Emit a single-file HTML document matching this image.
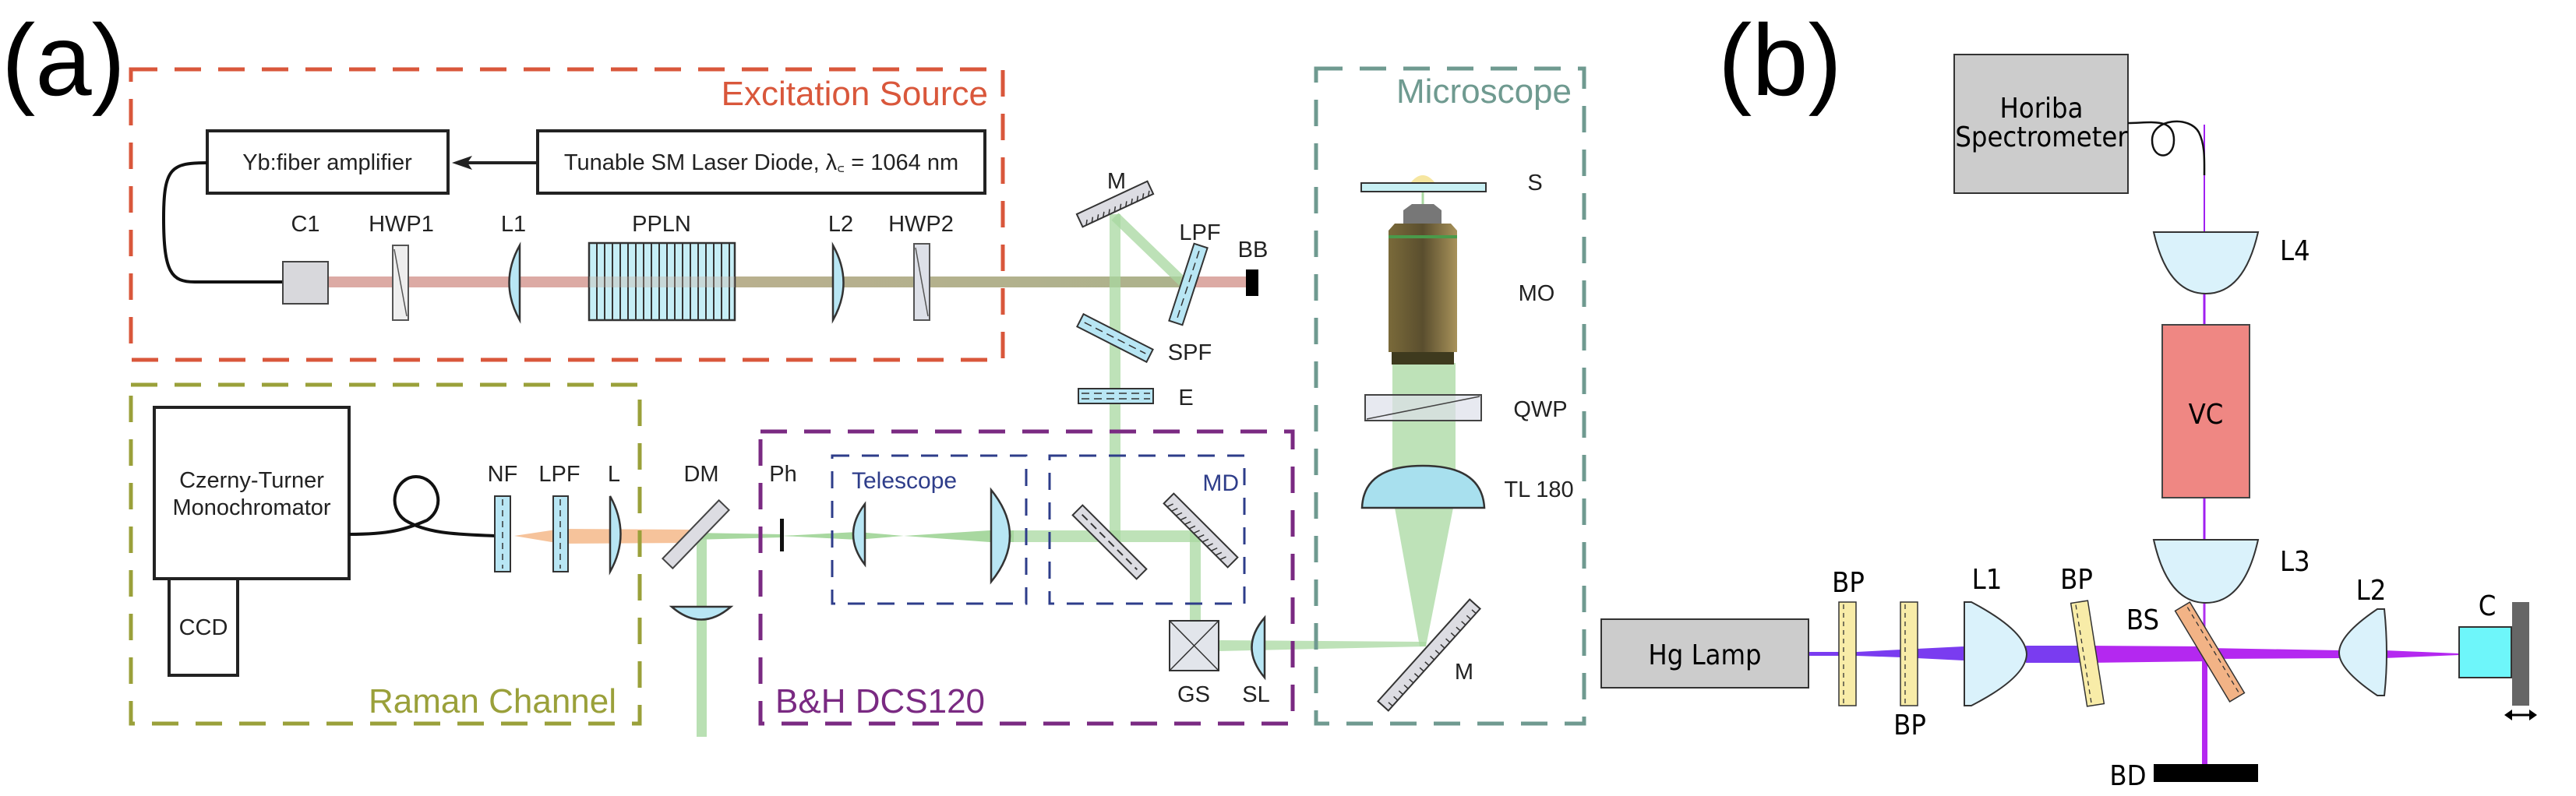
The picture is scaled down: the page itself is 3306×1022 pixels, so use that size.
<!DOCTYPE html>
<html><head><meta charset="utf-8"><style>
html,body{margin:0;padding:0;background:#fff;}
svg{display:block;}
.a{font-family:"Liberation Sans",sans-serif;font-size:29px;fill:#222;}
.b{font-family:"DejaVu Sans Condensed","DejaVu Sans",sans-serif;font-size:36px;fill:#000;}
</style></head><body>
<svg width="3306" height="1022" viewBox="0 0 3306 1022" xmlns="http://www.w3.org/2000/svg">
<defs>
<linearGradient id="beam" x1="0" x2="1" y1="0" y2="0">
<stop offset="0" stop-color="#dcaaa4"/><stop offset="0.28" stop-color="#dcaaa4"/><stop offset="0.45" stop-color="#b9b08e"/><stop offset="1" stop-color="#abb28c"/></linearGradient>
<linearGradient id="mo" x1="0" x2="1"><stop offset="0" stop-color="#7a6a3a"/><stop offset="0.5" stop-color="#5a4e2e"/><stop offset="1" stop-color="#a8925a"/></linearGradient>
</defs>

<!-- (a) -->
<text x="2" y="122" font-family="Liberation Sans,sans-serif" font-size="130" fill="#000">(a)</text>

<!-- beams panel a -->
<rect x="421" y="355" width="1178" height="14" fill="url(#beam)"/>
<rect x="1515" y="355" width="84" height="14" fill="#dcaaa4"/>
<rect x="1424" y="275" width="14" height="420" fill="#a8d8a0" opacity="0.75"/>
<line x1="1431" y1="278" x2="1518" y2="362" stroke="#a8d8a0" stroke-width="13" opacity="0.75"/>
<rect x="1301" y="681" width="240" height="15" fill="#a8d8a0" opacity="0.75"/>
<rect x="1527" y="681" width="14" height="118" fill="#a8d8a0" opacity="0.75"/>
<polygon points="1564,822 1830,824 1830,830 1564,836" fill="#a8d8a0" opacity="0.75"/>
<polygon points="660,688 720,679 890,680 890,697 720,698" fill="#f4b88a" opacity="0.85"/>
<polygon points="890,684 1003,686 1003,690 890,693" fill="#a8d8a0"/>
<polygon points="1003,688 1100,683 1160,688 1100,693" fill="#a8d8a0"/>
<polygon points="1160,688 1270,681 1301,681 1301,696 1270,696" fill="#a8d8a0"/>
<rect x="894" y="690" width="13" height="256" fill="#a8d8a0" opacity="0.8"/>
<!-- microscope beams -->
<rect x="1787" y="466" width="81" height="186" fill="#a8d8a0" opacity="0.75"/>
<polygon points="1790,652 1865,652 1830,830 1822,830" fill="#a8d8a0" opacity="0.75"/>
<line x1="1826" y1="246" x2="1826" y2="264" stroke="#a8d8a0" stroke-width="3"/>

<!-- red box -->
<rect x="168" y="89" width="1119" height="373" fill="none" stroke="#d9573b" stroke-width="5" stroke-dasharray="34,22"/>
<text x="1268" y="135" text-anchor="end" font-family="Liberation Sans,sans-serif" font-size="44" fill="#d9573b">Excitation Source</text>
<rect x="266" y="168" width="309" height="80" fill="#fff" stroke="#222" stroke-width="4"/>
<text x="420" y="218" text-anchor="middle" class="a">Yb:fiber amplifier</text>
<rect x="690" y="168" width="574" height="80" fill="#fff" stroke="#222" stroke-width="4"/>
<text x="977" y="218" text-anchor="middle" class="a">Tunable SM Laser Diode, λ꜀ = 1064 nm</text>
<line x1="690" y1="209" x2="600" y2="209" stroke="#222" stroke-width="4"/>
<polygon points="580,209 606,200 600,209 606,218" fill="#222"/>
<path d="M266,209 C220,209 210,215 210,280 C210,350 220,362 250,362 L363,362" fill="none" stroke="#111" stroke-width="4"/>
<rect x="363" y="336" width="58" height="54" fill="#d8d8dc" stroke="#444" stroke-width="2"/>
<rect x="504" y="315" width="20" height="96" fill="#eee" stroke="#555" stroke-width="2"/>
<line x1="506" y1="320" x2="522" y2="406" stroke="#555" stroke-width="1.5"/>
<path d="M667,315 L667,411 Q640,363 667,315 Z" fill="#b8e6f4" stroke="#333" stroke-width="2.5"/>
<rect x="756" y="312" width="187" height="99" fill="#c6eef6" stroke="#333" stroke-width="2.5"/>
<g stroke="#333" stroke-width="2">
<line x1="766" y1="312" x2="766" y2="411"/><line x1="776" y1="312" x2="776" y2="411"/><line x1="786" y1="312" x2="786" y2="411"/><line x1="796" y1="312" x2="796" y2="411"/><line x1="806" y1="312" x2="806" y2="411"/><line x1="816" y1="312" x2="816" y2="411"/><line x1="826" y1="312" x2="826" y2="411"/><line x1="836" y1="312" x2="836" y2="411"/><line x1="846" y1="312" x2="846" y2="411"/><line x1="856" y1="312" x2="856" y2="411"/><line x1="866" y1="312" x2="866" y2="411"/><line x1="876" y1="312" x2="876" y2="411"/><line x1="886" y1="312" x2="886" y2="411"/><line x1="896" y1="312" x2="896" y2="411"/><line x1="906" y1="312" x2="906" y2="411"/><line x1="916" y1="312" x2="916" y2="411"/><line x1="926" y1="312" x2="926" y2="411"/><line x1="936" y1="312" x2="936" y2="411"/></g>
<rect x="756" y="355" width="187" height="14" fill="#c8b0a0" opacity="0.35"/>
<path d="M1069,315 L1069,411 Q1096,363 1069,315 Z" fill="#b8e6f4" stroke="#333" stroke-width="2.5"/>
<rect x="1173" y="313" width="20" height="98" fill="#dde0e8" stroke="#555" stroke-width="2"/>
<line x1="1175" y1="318" x2="1191" y2="406" stroke="#555" stroke-width="1.5"/>
<text x="392" y="297" text-anchor="middle" class="a">C1</text>
<text x="515" y="297" text-anchor="middle" class="a">HWP1</text>
<text x="659" y="297" text-anchor="middle" class="a">L1</text>
<text x="849" y="297" text-anchor="middle" class="a">PPLN</text>
<text x="1079" y="297" text-anchor="middle" class="a">L2</text>
<text x="1182" y="297" text-anchor="middle" class="a">HWP2</text>

<!-- mirrors outside -->
<g transform="translate(1431,262) rotate(-25)"><rect x="-50" y="-9" width="100" height="18" fill="#dcdce2" stroke="#333" stroke-width="2"/>
<path d="M-45,9 l4,-6 M-37,9 l4,-6 M-29,9 l4,-6 M-21,9 l4,-6 M-13,9 l4,-6 M-5,9 l4,-6 M3,9 l4,-6 M11,9 l4,-6 M19,9 l4,-6 M27,9 l4,-6 M35,9 l4,-6 M43,9 l4,-6" stroke="#333" stroke-width="1.5"/></g>
<text x="1433" y="242" text-anchor="middle" class="a">M</text>
<g transform="translate(1525,365) rotate(-72)"><rect x="-52" y="-9" width="104" height="18" fill="#b8e6f4" stroke="#333" stroke-width="2"/><line x1="-45" y1="0" x2="45" y2="0" stroke="#333" stroke-width="1.5" stroke-dasharray="10,6"/></g>
<text x="1540" y="308" text-anchor="middle" class="a">LPF</text>
<rect x="1599" y="346" width="16" height="34" fill="#000"/>
<text x="1608" y="330" text-anchor="middle" class="a">BB</text>
<g transform="translate(1431,434) rotate(27)"><rect x="-50" y="-9" width="100" height="18" fill="#b8e6f4" stroke="#333" stroke-width="2"/><line x1="-44" y1="0" x2="44" y2="0" stroke="#333" stroke-width="1.5" stroke-dasharray="10,6"/></g>
<text x="1527" y="462" text-anchor="middle" class="a">SPF</text>
<rect x="1384" y="499" width="96" height="19" fill="#b8e6f4" stroke="#333" stroke-width="2"/>
<line x1="1388" y1="505" x2="1476" y2="505" stroke="#333" stroke-width="1.5" stroke-dasharray="10,6"/>
<line x1="1388" y1="512" x2="1476" y2="512" stroke="#333" stroke-width="1.5" stroke-dasharray="10,6"/>
<text x="1522" y="520" text-anchor="middle" class="a">E</text>

<!-- green box -->
<rect x="168" y="494" width="653" height="435" fill="none" stroke="#9aa03a" stroke-width="5" stroke-dasharray="34,22"/>
<text x="791" y="915" text-anchor="end" font-family="Liberation Sans,sans-serif" font-size="44" fill="#9aa03a">Raman Channel</text>
<rect x="198" y="523" width="250" height="220" fill="#fff" stroke="#222" stroke-width="4"/>
<text x="323" y="626" text-anchor="middle" class="a">Czerny-Turner</text>
<text x="323" y="661" text-anchor="middle" class="a">Monochromator</text>
<rect x="217" y="743" width="88" height="124" fill="#fff" stroke="#222" stroke-width="4"/>
<text x="261" y="815" text-anchor="middle" class="a">CCD</text>
<path d="M448,686 C500,686 520,680 548,668 C575,650 560,612 534,612 C508,612 495,650 520,668 C550,686 590,686 635,688" fill="none" stroke="#111" stroke-width="4"/>
<rect x="635" y="637" width="20" height="97" fill="#b8e6f4" stroke="#333" stroke-width="2"/><line x1="645" y1="641" x2="645" y2="730" stroke="#333" stroke-width="1.5" stroke-dasharray="8,6"/>
<rect x="710" y="637" width="19" height="97" fill="#b8e6f4" stroke="#333" stroke-width="2"/><line x1="719" y1="641" x2="719" y2="730" stroke="#333" stroke-width="1.5" stroke-dasharray="8,6"/>
<path d="M783,637 L783,734 Q810,686 783,637 Z" fill="#b8e6f4" stroke="#333" stroke-width="2.5"/>
<text x="645" y="618" text-anchor="middle" class="a">NF</text>
<text x="718" y="618" text-anchor="middle" class="a">LPF</text>
<text x="788" y="618" text-anchor="middle" class="a">L</text>
<g transform="translate(893,686) rotate(-46)"><rect x="-52" y="-9" width="104" height="18" fill="#dcdce2" stroke="#444" stroke-width="2"/></g>
<text x="900" y="618" text-anchor="middle" class="a">DM</text>
<path d="M862,779 L938,779 Q900,812 862,779 Z" fill="#b8e6f4" stroke="#333" stroke-width="2.5"/>

<!-- purple box -->
<rect x="976" y="554" width="683" height="375" fill="none" stroke="#7a2a82" stroke-width="5" stroke-dasharray="34,22"/>
<text x="995" y="915" font-family="Liberation Sans,sans-serif" font-size="44" fill="#7a2a82">B&amp;H DCS120</text>
<rect x="1001" y="666" width="5" height="42" fill="#111"/>
<text x="1005" y="618" text-anchor="middle" class="a">Ph</text>
<rect x="1068" y="585" width="249" height="190" fill="none" stroke="#2e3d8a" stroke-width="3" stroke-dasharray="22,16"/>
<text x="1093" y="627" font-family="Liberation Sans,sans-serif" font-size="30" fill="#2e3d8a">Telescope</text>
<rect x="1347" y="585" width="250" height="190" fill="none" stroke="#2e3d8a" stroke-width="3" stroke-dasharray="22,16"/>
<text x="1590" y="630" text-anchor="end" font-family="Liberation Sans,sans-serif" font-size="30" fill="#2e3d8a">MD</text>
<path d="M1110,647 L1110,725 Q1080,686 1110,647 Z" fill="#b8e6f4" stroke="#333" stroke-width="2.5"/>
<path d="M1272,629 L1272,747 Q1320,688 1272,629 Z" fill="#b8e6f4" stroke="#333" stroke-width="2.5"/>
<g transform="translate(1424,696) rotate(45)"><rect x="-58" y="-9" width="116" height="18" fill="#dcdce2" stroke="#333" stroke-width="2"/><line x1="-50" y1="0" x2="50" y2="0" stroke="#333" stroke-width="2" stroke-dasharray="10,6"/></g>
<g transform="translate(1541,681) rotate(45)"><rect x="-58" y="-9" width="116" height="18" fill="#dcdce2" stroke="#333" stroke-width="2"/>
<path d="M-52,9 l3,-8 M-44,9 l3,-8 M-36,9 l3,-8 M-28,9 l3,-8 M-20,9 l3,-8 M-12,9 l3,-8 M-4,9 l3,-8 M4,9 l3,-8 M12,9 l3,-8 M20,9 l3,-8 M28,9 l3,-8 M36,9 l3,-8 M44,9 l3,-8" stroke="#333" stroke-width="1.5"/></g>
<rect x="1501" y="797" width="63" height="64" fill="#dde0e8" fill-opacity="0.85" stroke="#333" stroke-width="2"/>
<line x1="1501" y1="797" x2="1564" y2="861" stroke="#333" stroke-width="1.5"/><line x1="1564" y1="797" x2="1501" y2="861" stroke="#333" stroke-width="1.5"/>
<path d="M1623,793 L1623,870 Q1590,831 1623,793 Z" fill="#b8e6f4" stroke="#333" stroke-width="2.5"/>
<text x="1532" y="901" text-anchor="middle" class="a">GS</text>
<text x="1612" y="901" text-anchor="middle" class="a">SL</text>

<!-- microscope -->
<rect x="1689" y="88" width="344" height="841" fill="none" stroke="#6f9a90" stroke-width="5" stroke-dasharray="34,22"/>
<text x="2017" y="132" text-anchor="end" font-family="Liberation Sans,sans-serif" font-size="44" fill="#6f9a90">Microscope</text>
<path d="M1810,235 Q1826,215 1842,235 Z" fill="#f6e6a0"/>
<rect x="1747" y="235" width="160" height="11" fill="#c8f0f4" stroke="#333" stroke-width="2"/>
<text x="1970" y="244" text-anchor="middle" class="a">S</text>
<path d="M1801,287 L1801,270 L1812,262 L1840,262 L1850,270 L1850,287 Z" fill="#777"/>
<path d="M1782,296 L1790,287 L1862,287 L1870,296 L1870,452 L1782,452 Z" fill="url(#mo)"/>
<rect x="1782" y="302" width="88" height="4" fill="#4a9a4a"/>
<rect x="1786" y="452" width="80" height="16" fill="#3e3a1e"/>
<text x="1972" y="386" text-anchor="middle" class="a">MO</text>
<rect x="1752" y="507" width="149" height="33" fill="#dde0ea" fill-opacity="0.7" stroke="#444" stroke-width="2"/>
<line x1="1754" y1="538" x2="1899" y2="509" stroke="#444" stroke-width="1.5"/>
<text x="1977" y="535" text-anchor="middle" class="a">QWP</text>
<path d="M1748,652 Q1750,598 1826,598 Q1902,598 1905,652 Z" fill="#a8e0ee" stroke="#333" stroke-width="2.5"/>
<text x="1975" y="638" text-anchor="middle" class="a">TL 180</text>
<g transform="translate(1834,841) rotate(-48)"><rect x="-88" y="-9" width="176" height="18" fill="#dcdce2" stroke="#333" stroke-width="2"/>
<path d="M-80,9 l0,-7 M-70,9 l0,-7 M-60,9 l0,-7 M-50,9 l0,-7 M-40,9 l0,-7 M-30,9 l0,-7 M-20,9 l0,-7 M-10,9 l0,-7 M0,9 l0,-7 M10,9 l0,-7 M20,9 l0,-7 M30,9 l0,-7 M40,9 l0,-7 M50,9 l0,-7 M60,9 l0,-7 M70,9 l0,-7 M80,9 l0,-7" stroke="#333" stroke-width="1.5"/></g>
<text x="1879" y="872" text-anchor="middle" class="a">M</text>

<!-- (b) -->
<text x="2205" y="122" font-family="Liberation Sans,sans-serif" font-size="130" fill="#000">(b)</text>
<!-- beams b -->
<line x1="2829" y1="160" x2="2829" y2="300" stroke="#a020f0" stroke-width="2"/>
<line x1="2829" y1="377" x2="2829" y2="417" stroke="#a020f0" stroke-width="3"/>
<line x1="2829" y1="639" x2="2829" y2="693" stroke="#a020f0" stroke-width="3"/>
<line x1="2829" y1="774" x2="2829" y2="835" stroke="#b030f0" stroke-width="3"/>
<rect x="2826" y="835" width="7" height="147" fill="#b428f0"/>
<polygon points="2321,837 2383,837 2440,834 2520,830 2520,848 2440,844 2383,842 2321,842" fill="#7a3cf0"/>
<rect x="2600" y="829" width="80" height="22" fill="#7a3cf0"/>
<polygon points="2680,829 2835,830 2835,849 2680,851" fill="#b428f0"/>
<polygon points="2835,832 3002,835 3002,845 2835,846" fill="#b428f0"/>
<polygon points="3060,835 3156,839 3156,841 3060,845" fill="#b428f0"/>

<rect x="2508" y="70" width="223" height="178" fill="#cccccc" stroke="#333" stroke-width="2"/>
<text x="2620" y="151" text-anchor="middle" class="b" font-size="33">Horiba</text>
<text x="2620" y="188" text-anchor="middle" class="b" font-size="33">Spectrometer</text>
<path d="M2731,158 C2760,158 2790,150 2790,180 C2790,206 2762,206 2762,180 C2762,152 2810,148 2822,170 C2830,186 2829,205 2829,225" fill="none" stroke="#111" stroke-width="2.5"/>
<path d="M2764,298 L2898,298 Q2880,377 2831,377 Q2782,377 2764,298 Z" fill="#daf2fb" stroke="#333" stroke-width="2"/>
<text x="2926" y="334" class="b">L4</text>
<rect x="2775" y="417" width="112" height="222" fill="#ef8783" stroke="#444" stroke-width="2"/>
<text x="2831" y="544" text-anchor="middle" class="b" font-size="48">VC</text>
<path d="M2764,693 L2898,693 Q2880,774 2831,774 Q2782,774 2764,693 Z" fill="#daf2fb" stroke="#333" stroke-width="2"/>
<text x="2926" y="733" class="b">L3</text>
<rect x="2055" y="795" width="266" height="88" fill="#cccccc" stroke="#333" stroke-width="2"/>
<text x="2188" y="853" text-anchor="middle" class="b" font-size="42">Hg Lamp</text>
<rect x="2360" y="773" width="22" height="133" fill="#f8eca8" stroke="#333" stroke-width="1.5"/><line x1="2366" y1="776" x2="2366" y2="904" stroke="#333" stroke-width="1.3" stroke-dasharray="6,5"/>
<rect x="2439" y="773" width="22" height="133" fill="#f8eca8" stroke="#333" stroke-width="1.5"/><line x1="2445" y1="776" x2="2445" y2="904" stroke="#333" stroke-width="1.3" stroke-dasharray="6,5"/>
<text x="2372" y="760" text-anchor="middle" class="b">BP</text>
<text x="2451" y="943" text-anchor="middle" class="b">BP</text>
<path d="M2521,773 L2530,773 Q2600,810 2601,840 Q2600,870 2530,906 L2521,906 Z" fill="#daf2fb" stroke="#333" stroke-width="2"/>
<text x="2550" y="756" text-anchor="middle" class="b">L1</text>
<g transform="translate(2679,839) rotate(-9)"><rect x="-11" y="-67" width="22" height="134" fill="#f8eca8" stroke="#333" stroke-width="1.5"/><line x1="-5" y1="-64" x2="-5" y2="64" stroke="#333" stroke-width="1.3" stroke-dasharray="6,5"/></g>
<text x="2665" y="756" text-anchor="middle" class="b">BP</text>
<g transform="translate(2836,837) rotate(59)"><rect x="-68" y="-11" width="136" height="22" fill="#f2b386" stroke="#333" stroke-width="1.5"/><line x1="-64" y1="-5" x2="64" y2="-5" stroke="#333" stroke-width="1.3" stroke-dasharray="6,5"/></g>
<text x="2750" y="808" text-anchor="middle" class="b">BS</text>
<path d="M3051,782 L3060,782 Q3066,840 3060,893 L3051,893 Q3002,860 3002,838 Q3002,815 3051,782 Z" fill="#daf2fb" stroke="#333" stroke-width="2"/>
<text x="3043" y="770" text-anchor="middle" class="b">L2</text>
<rect x="3156" y="805" width="67" height="65" fill="#6ef6fa" stroke="#333" stroke-width="2"/>
<rect x="3224" y="773" width="22" height="133" fill="#666"/>
<text x="3192" y="790" text-anchor="middle" class="b">C</text>
<line x1="3220" y1="918" x2="3250" y2="918" stroke="#000" stroke-width="3"/>
<polygon points="3214,918 3224,911 3224,925" fill="#000"/><polygon points="3256,918 3246,911 3246,925" fill="#000"/>
<rect x="2764" y="981" width="134" height="23" fill="#000"/>
<text x="2731" y="1008" text-anchor="middle" class="b">BD</text>
</svg>
</body></html>
